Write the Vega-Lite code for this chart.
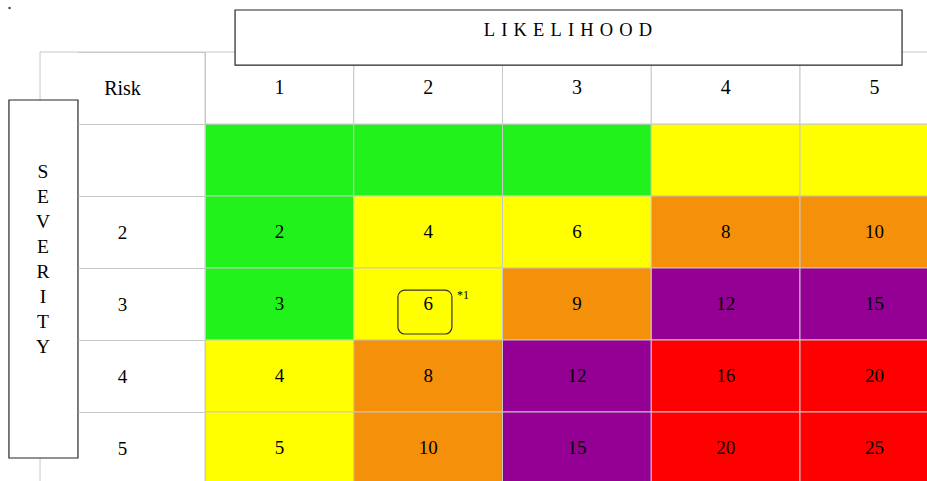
{
  "$schema": "https://vega.github.io/schema/vega-lite/v6.json",
  "width": 722,
  "height": 429,
  "autosize": "none",
  "padding": {"left": 205, "top": 52, "right": 0, "bottom": 0},
  "background": "white",
  "config": {"view": {"stroke": null}, "font": "Liberation Serif"},
  "datasets": {
    "cells": [
      {"likelihood": 1, "severity": 1, "score": null, "level": "low"},
      {"likelihood": 2, "severity": 1, "score": null, "level": "low"},
      {"likelihood": 3, "severity": 1, "score": null, "level": "low"},
      {"likelihood": 4, "severity": 1, "score": null, "level": "moderate"},
      {"likelihood": 5, "severity": 1, "score": null, "level": "moderate"},
      {"likelihood": 1, "severity": 2, "score": 2, "level": "low"},
      {"likelihood": 2, "severity": 2, "score": 4, "level": "moderate"},
      {"likelihood": 3, "severity": 2, "score": 6, "level": "moderate"},
      {"likelihood": 4, "severity": 2, "score": 8, "level": "high"},
      {"likelihood": 5, "severity": 2, "score": 10, "level": "high"},
      {"likelihood": 1, "severity": 3, "score": 3, "level": "low"},
      {"likelihood": 2, "severity": 3, "score": 6, "level": "moderate"},
      {"likelihood": 3, "severity": 3, "score": 9, "level": "high"},
      {"likelihood": 4, "severity": 3, "score": 12, "level": "very high"},
      {"likelihood": 5, "severity": 3, "score": 15, "level": "very high"},
      {"likelihood": 1, "severity": 4, "score": 4, "level": "moderate"},
      {"likelihood": 2, "severity": 4, "score": 8, "level": "high"},
      {"likelihood": 3, "severity": 4, "score": 12, "level": "very high"},
      {"likelihood": 4, "severity": 4, "score": 16, "level": "extreme"},
      {"likelihood": 5, "severity": 4, "score": 20, "level": "extreme"},
      {"likelihood": 1, "severity": 5, "score": 5, "level": "moderate"},
      {"likelihood": 2, "severity": 5, "score": 10, "level": "high"},
      {"likelihood": 3, "severity": 5, "score": 15, "level": "very high"},
      {"likelihood": 4, "severity": 5, "score": 20, "level": "extreme"},
      {"likelihood": 5, "severity": 5, "score": 25, "level": "extreme"}
    ],
    "header": [
      {"likelihood": 1, "severity": 0}, {"likelihood": 2, "severity": 0}, {"likelihood": 3, "severity": 0},
      {"likelihood": 4, "severity": 0}, {"likelihood": 5, "severity": 0}
    ]
  },
  "layer": [
    {
      "data": {"name": "cells"},
      "mark": {"type": "rect", "stroke": "#c8c8c8", "strokeWidth": 1},
      "encoding": {
        "x": {"field": "likelihood", "type": "ordinal",
              "scale": {"domain": [1, 2, 3, 4, 5], "range": [0, 743.75], "paddingInner": 0, "paddingOuter": 0},
              "axis": null},
        "y": {"field": "severity", "type": "ordinal",
              "scale": {"domain": [0, 1, 2, 3, 4, 5], "range": [0, 432], "paddingInner": 0, "paddingOuter": 0},
              "axis": {"orient": "left", "title": null, "tickBand": "extent", "tickSize": 127,
                       "tickColor": "#c8c8c8", "tickWidth": 1, "domainColor": "#c8c8c8",
                       "labelPadding": -44, "labelAlign": "center", "labelBaseline": "middle",
                       "labelFont": "Liberation Serif",
                       "labelFontSize": {"condition": {"test": "datum.value == 0", "value": 20}, "value": 19},
                       "labelColor": "black",
                       "labelExpr": "datum.value == 0 ? 'Risk' : (datum.value == 1 ? '' : datum.label)"}},
        "fill": {"field": "level", "type": "nominal",
                 "scale": {"domain": ["low", "moderate", "high", "very high", "extreme"],
                           "range": ["#21F21B", "#FFFF00", "#F5900B", "#930093", "#FF0000"]},
                 "legend": null}
      }
    },
    {
      "data": {"name": "header"},
      "mark": {"type": "rect", "fill": "white", "stroke": "#c8c8c8", "strokeWidth": 1},
      "encoding": {
        "x": {"field": "likelihood", "type": "ordinal",
              "scale": {"domain": [1, 2, 3, 4, 5], "range": [0, 743.75], "paddingInner": 0, "paddingOuter": 0},
              "axis": null},
        "y": {"field": "severity", "type": "ordinal",
              "scale": {"domain": [0, 1, 2, 3, 4, 5], "range": [0, 432], "paddingInner": 0, "paddingOuter": 0},
              "axis": null}
      }
    },
    {
      "data": {"name": "header"},
      "mark": {"type": "text", "font": "Liberation Serif", "fontSize": 20, "color": "black", "baseline": "middle"},
      "encoding": {
        "x": {"field": "likelihood", "type": "ordinal",
              "scale": {"domain": [1, 2, 3, 4, 5], "range": [0, 743.75], "paddingInner": 0, "paddingOuter": 0},
              "axis": null},
        "y": {"field": "severity", "type": "ordinal",
              "scale": {"domain": [0, 1, 2, 3, 4, 5], "range": [0, 432], "paddingInner": 0, "paddingOuter": 0},
              "axis": null},
        "text": {"field": "likelihood", "type": "nominal"}
      }
    },
    {
      "data": {"name": "cells"},
      "transform": [{"filter": "isValid(datum.score)"}],
      "mark": {"type": "text", "font": "Liberation Serif", "fontSize": 19, "color": "black", "baseline": "middle"},
      "encoding": {
        "x": {"field": "likelihood", "type": "ordinal",
              "scale": {"domain": [1, 2, 3, 4, 5], "range": [0, 743.75], "paddingInner": 0, "paddingOuter": 0},
              "axis": null},
        "y": {"field": "severity", "type": "ordinal",
              "scale": {"domain": [0, 1, 2, 3, 4, 5], "range": [0, 432], "paddingInner": 0, "paddingOuter": 0},
              "axis": null},
        "text": {"field": "score", "type": "nominal"}
      }
    },
    {
      "data": {"values": [{"part": "table left edge"}]},
      "mark": {"type": "rule", "stroke": "#c8c8c8", "strokeWidth": 1},
      "encoding": {
        "x": {"datum": -0.609, "type": "quantitative",
              "scale": {"domain": [0.5, 5.5], "range": [0, 743.75], "zero": false, "nice": false}, "axis": null},
        "y": {"datum": -0.5, "type": "quantitative",
              "scale": {"domain": [-0.5, 5.5], "range": [0, 432], "zero": false, "nice": false}, "axis": null},
        "y2": {"datum": 5.5}
      }
    },
    {
      "data": {"values": [{"part": "table top edge"}]},
      "mark": {"type": "rule", "stroke": "#c8c8c8", "strokeWidth": 1},
      "encoding": {
        "x": {"datum": -0.609, "type": "quantitative",
              "scale": {"domain": [0.5, 5.5], "range": [0, 743.75], "zero": false, "nice": false}, "axis": null},
        "x2": {"datum": 0.5},
        "y": {"datum": -0.5, "type": "quantitative",
              "scale": {"domain": [-0.5, 5.5], "range": [0, 432], "zero": false, "nice": false}, "axis": null}
      }
    },
    {
      "data": {"values": [{"name": "SEVERITY"}]},
      "mark": {"type": "rect", "fill": "white", "stroke": "#262626", "strokeWidth": 1.2},
      "encoding": {
        "x": {"datum": -0.818, "type": "quantitative",
              "scale": {"domain": [0.5, 5.5], "range": [0, 743.75], "zero": false, "nice": false}, "axis": null},
        "x2": {"datum": -0.354},
        "y": {"datum": 0.167, "type": "quantitative",
              "scale": {"domain": [-0.5, 5.5], "range": [0, 432], "zero": false, "nice": false}, "axis": null},
        "y2": {"datum": 5.139}
      }
    },
    {
      "data": {"values": [{"name": "S\nE\nV\nE\nR\nI\nT\nY"}]},
      "mark": {"type": "text", "font": "Liberation Serif", "fontSize": 19.5, "color": "black",
               "baseline": "middle", "align": "center", "lineBreak": "\n", "lineHeight": 25.05},
      "encoding": {
        "x": {"datum": -0.589, "type": "quantitative",
              "scale": {"domain": [0.5, 5.5], "range": [0, 743.75], "zero": false, "nice": false}, "axis": null},
        "y": {"datum": 1.1625, "type": "quantitative",
              "scale": {"domain": [-0.5, 5.5], "range": [0, 432], "zero": false, "nice": false}, "axis": null},
        "text": {"field": "name", "type": "nominal"}
      }
    },
    {
      "data": {"values": [{"name": "LIKELIHOOD"}]},
      "mark": {"type": "rect", "fill": "white", "stroke": "#262626", "strokeWidth": 1.2},
      "encoding": {
        "x": {"datum": 0.702, "type": "quantitative",
              "scale": {"domain": [0.5, 5.5], "range": [0, 743.75], "zero": false, "nice": false}, "axis": null},
        "x2": {"datum": 5.186},
        "y": {"datum": -1.083, "type": "quantitative",
              "scale": {"domain": [-0.5, 5.5], "range": [0, 432], "zero": false, "nice": false}, "axis": null},
        "y2": {"datum": -0.319}
      }
    },
    {
      "data": {"values": [{"name": "L\u2004I\u2004K\u2004E\u2004L\u2004I\u2004H\u2004O\u2004O\u2004D"}]},
      "mark": {"type": "text", "font": "Liberation Serif", "fontSize": 18.5, "color": "black",
               "baseline": "middle", "align": "center"},
      "encoding": {
        "x": {"datum": 2.94, "type": "quantitative",
              "scale": {"domain": [0.5, 5.5], "range": [0, 743.75], "zero": false, "nice": false}, "axis": null},
        "y": {"datum": -0.8125, "type": "quantitative",
              "scale": {"domain": [-0.5, 5.5], "range": [0, 432], "zero": false, "nice": false}, "axis": null},
        "text": {"field": "name", "type": "nominal"}
      }
    },
    {
      "data": {"values": [{"note": "6"}]},
      "mark": {"type": "rect", "fill": "transparent", "stroke": "#333333", "strokeWidth": 1.2, "cornerRadius": 7},
      "encoding": {
        "x": {"datum": 1.797, "type": "quantitative",
              "scale": {"domain": [0.5, 5.5], "range": [0, 743.75], "zero": false, "nice": false}, "axis": null},
        "x2": {"datum": 2.16},
        "y": {"datum": 2.806, "type": "quantitative",
              "scale": {"domain": [-0.5, 5.5], "range": [0, 432], "zero": false, "nice": false}, "axis": null},
        "y2": {"datum": 3.417}
      }
    },
    {
      "data": {"values": [{"note": "*1"}]},
      "mark": {"type": "text", "font": "Liberation Serif", "fontSize": 12, "color": "black",
               "baseline": "middle", "align": "left"},
      "encoding": {
        "x": {"datum": 2.194, "type": "quantitative",
              "scale": {"domain": [0.5, 5.5], "range": [0, 743.75], "zero": false, "nice": false}, "axis": null},
        "y": {"datum": 2.875, "type": "quantitative",
              "scale": {"domain": [-0.5, 5.5], "range": [0, 432], "zero": false, "nice": false}, "axis": null},
        "text": {"field": "note", "type": "nominal"}
      }
    },
    {
      "data": {"values": [{"note": "."}]},
      "mark": {"type": "square", "filled": true, "color": "black", "size": 5},
      "encoding": {
        "x": {"datum": -0.814, "type": "quantitative",
              "scale": {"domain": [0.5, 5.5], "range": [0, 743.75], "zero": false, "nice": false}, "axis": null},
        "y": {"datum": -1.111, "type": "quantitative",
              "scale": {"domain": [-0.5, 5.5], "range": [0, 432], "zero": false, "nice": false}, "axis": null}
      }
    }
  ],
  "resolve": {"scale": {"x": "independent", "y": "independent"}}
}
